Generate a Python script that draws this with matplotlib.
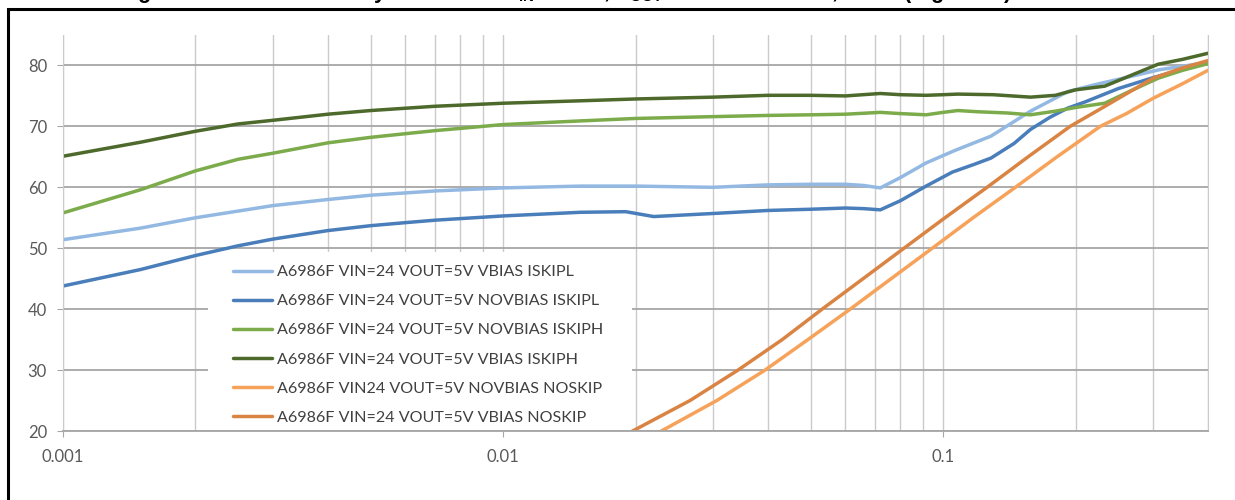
import matplotlib
matplotlib.use("Agg")
import matplotlib.pyplot as plt
from matplotlib.patches import Rectangle

plt.rcParams['font.family'] = ['Lato', 'DejaVu Sans']
plt.rcParams['mathtext.fontset'] = 'custom'
plt.rcParams['mathtext.rm'] = 'Liberation Sans'
plt.rcParams['mathtext.bf'] = 'Liberation Sans:bold'

# --- data (x = output current in A, y = efficiency in %)
x_vbias_iskipl = [0.001, 0.0015, 0.002, 0.0025, 0.003, 0.004, 0.005, 0.007, 0.01, 0.015, 0.02,
                  0.03, 0.04, 0.05, 0.06, 0.066, 0.072, 0.08, 0.0915, 0.106, 0.1285, 0.158,
                  0.192, 0.22, 0.26, 0.31, 0.4]
y_vbias_iskipl = [51.4, 53.3, 55.0, 56.1, 57.0, 58.0, 58.7, 59.4, 59.9, 60.2, 60.2,
                  60.0, 60.4, 60.5, 60.5, 60.3, 59.9, 61.6, 64.0, 66.0, 68.4, 72.5,
                  75.7, 76.8, 78.0, 79.3, 80.5]

x_novbias_iskipl = [0.001, 0.0015, 0.002, 0.0025, 0.003, 0.004, 0.005, 0.006, 0.007, 0.01, 0.015,
                    0.019, 0.022, 0.03, 0.04, 0.05, 0.06, 0.066, 0.072, 0.08, 0.0915, 0.105,
                    0.118, 0.1285, 0.145, 0.158, 0.175, 0.192, 0.21, 0.25, 0.3, 0.4]
y_novbias_iskipl = [43.8, 46.5, 48.8, 50.4, 51.5, 52.9, 53.7, 54.2, 54.6, 55.3, 55.9,
                    56.0, 55.2, 55.7, 56.2, 56.4, 56.6, 56.5, 56.3, 57.8, 60.2, 62.5,
                    63.8, 64.8, 67.2, 69.5, 71.5, 73.0, 74.0, 76.2, 78.0, 80.5]

x_novbias_iskiph = [0.001, 0.0015, 0.002, 0.0025, 0.003, 0.004, 0.005, 0.006, 0.007, 0.01, 0.015,
                    0.02, 0.03, 0.04, 0.05, 0.06, 0.072, 0.08, 0.0915, 0.1, 0.108, 0.12,
                    0.14, 0.158, 0.18, 0.2, 0.233, 0.27, 0.308, 0.35, 0.4]
y_novbias_iskiph = [55.8, 59.6, 62.7, 64.6, 65.6, 67.3, 68.2, 68.8, 69.3, 70.3, 70.9,
                    71.3, 71.6, 71.8, 71.9, 72.0, 72.3, 72.1, 71.9, 72.3, 72.6, 72.4,
                    72.2, 71.9, 72.5, 73.1, 73.8, 76.0, 77.9, 79.2, 80.3]

x_vbias_iskiph = [0.001, 0.0015, 0.002, 0.0025, 0.003, 0.004, 0.005, 0.007, 0.01, 0.015, 0.02,
                  0.03, 0.04, 0.05, 0.06, 0.072, 0.08, 0.0915, 0.1, 0.108, 0.13, 0.158,
                  0.18, 0.2, 0.233, 0.27, 0.308, 0.35, 0.4]
y_vbias_iskiph = [65.1, 67.4, 69.2, 70.4, 71.0, 72.0, 72.6, 73.3, 73.8, 74.2, 74.5,
                  74.8, 75.1, 75.1, 75.0, 75.4, 75.2, 75.1, 75.2, 75.3, 75.2, 74.8,
                  75.1, 76.0, 76.6, 78.5, 80.2, 81.0, 82.0]

x_novbias_noskip = [0.0185, 0.0229, 0.0306, 0.0394, 0.0493, 0.0615, 0.0762, 0.0945, 0.117,
                    0.146, 0.1815, 0.2276, 0.261, 0.3, 0.35, 0.4]
y_novbias_noskip = [15.0, 20.0, 25.0, 30.0, 35.0, 40.0, 45.0, 50.0, 55.0,
                    60.0, 65.0, 70.0, 72.1, 74.6, 77.0, 79.2]

x_vbias_noskip = [0.0155, 0.0197, 0.0266, 0.0342, 0.0431, 0.0531, 0.0658, 0.0815, 0.101,
                  0.1259, 0.156, 0.1944, 0.227, 0.256, 0.3, 0.35, 0.4]
y_vbias_noskip = [15.0, 20.0, 25.0, 30.0, 35.0, 40.0, 45.0, 50.0, 55.0,
                  60.0, 65.0, 70.0, 72.8, 75.0, 77.9, 79.6, 80.8]

labels = ['A6986F VIN=24 VOUT=5V VBIAS ISKIPL',
          'A6986F VIN=24 VOUT=5V NOVBIAS ISKIPL',
          'A6986F VIN=24 VOUT=5V NOVBIAS ISKIPH',
          'A6986F VIN=24 VOUT=5V VBIAS ISKIPH',
          'A6986F VIN24 VOUT=5V NOVBIAS NOSKIP',
          'A6986F VIN=24 VOUT=5V VBIAS NOSKIP']
cores = ['#93b9e3', '#4a7ebb', '#7cab4c', '#4d6a2c', '#f7a25a', '#da8444']

series = [(x_vbias_iskipl, y_vbias_iskipl),
          (x_novbias_iskipl, y_novbias_iskipl),
          (x_novbias_iskiph, y_novbias_iskiph),
          (x_vbias_iskiph, y_vbias_iskiph),
          (x_novbias_noskip, y_novbias_noskip),
          (x_vbias_noskip, y_vbias_noskip)]

W, H = 1235, 500
fig = plt.figure(figsize=(W / 100, H / 100), dpi=100)
ax = fig.add_axes([63 / W, (H - 431) / H, (1208 - 63) / W, (431 - 35) / H])

for (xs, ys), c, lab in zip(series, cores, labels):
    ax.plot(xs, ys, color=c, lw=2.5, label=lab, solid_capstyle='round', solid_joinstyle='round')

ax.set_xscale('log')
ax.set_xlim(0.001, 0.4)
ax.set_ylim(20, 85)
ax.set_yticks(range(20, 81, 10))
ax.set_xticks([0.001, 0.01, 0.1])
ax.set_xticklabels(['0.001', '0.01', '0.1'])
ax.set_axisbelow(True)
ax.grid(which='both', axis='x', color='#cbcbcb', lw=1.0)
ax.grid(which='major', axis='y', color='#a6a6a6', lw=1.3)

ax.spines['top'].set_visible(False)
ax.spines['left'].set_color('#cbcbcb')
ax.spines['right'].set_color('#cbcbcb')
ax.spines['bottom'].set_color('#a6a6a6')
ax.spines['bottom'].set_linewidth(1.3)

ax.tick_params(axis='y', length=4.5, color='#a6a6a6', labelcolor='#595959', labelsize=12, pad=7)
ax.tick_params(axis='x', which='major', length=4, color='#a6a6a6', labelcolor='#595959',
               labelsize=12, pad=9)
ax.tick_params(axis='x', which='minor', length=0)

# white box behind the legend hides the gridlines
ax.add_patch(Rectangle((208 / W, (H - 430) / H), 424 / W, 178 / H, transform=fig.transFigure,
                       facecolor='white', edgecolor='none', zorder=1))
ax.legend(loc='upper left', bbox_to_anchor=(233 / W, 1 - 265 / H), bbox_transform=fig.transFigure,
          frameon=False, fontsize=11.6, handlelength=2.45, handletextpad=0.27, labelspacing=0.92,
          borderpad=0, borderaxespad=0, labelcolor='#404040')

# outer frame (cropped) and the cut-off caption above it
fig.add_artist(Rectangle((8 / W, -0.1), 1.2, (H - 9) / H + 0.1, transform=fig.transFigure,
                         fill=False, edgecolor='black', lw=2.2))
fig.text(118 / W, 1 + 2.5 / H,
         r'Figure 31. Total Efficiency vs. load at V$_{\mathbf{IN}}$ = 24 V, V$_{\mathbf{OUT}}$'
         r' = 5 V at 400 kHz, 25 °C (log scale)',
         ha='left', va='baseline', fontsize=15.6, fontweight='bold', family='Liberation Sans')

fig.savefig('out.png', dpi=100)
